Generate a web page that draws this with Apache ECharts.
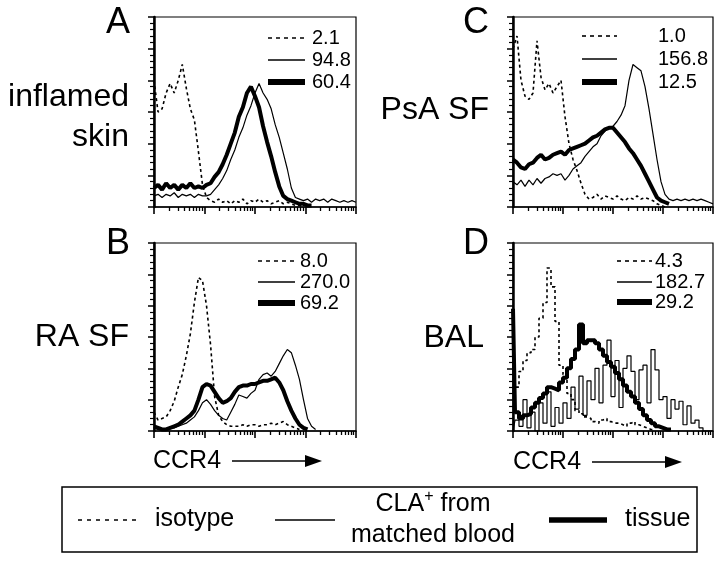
<!DOCTYPE html>
<html><head><meta charset="utf-8">
<script src="https://cdn.jsdelivr.net/npm/echarts@6/dist/echarts.min.js"></script>
<style>html,body{margin:0;padding:0;background:#fff}#c{width:720px;height:563px}</style>
</head><body><div id="c"></div>
<script>
// log10(CCR4 fluorescence) bin positions (4 decades)
const logBins = [0.00,0.08,0.16,0.24,0.32,0.40,0.48,0.56,0.64,0.72,0.80,0.88,0.96,1.04,1.12,1.20,1.28,1.36,1.44,1.52,1.60,1.68,1.76,1.84,1.92,2.00,2.08,2.16,2.24,2.32,2.40,2.48,2.56,2.64,2.72,2.80,2.88,2.96,3.04,3.12,3.20,3.28,3.36,3.44,3.52,3.60,3.68,3.76,3.84,3.92,4.00];

// Panel A - inflamed skin
const isoA    = [80,60,62,72,78,72,80,90,75,62,55,35,14,6,4,3,5,3,4,2,4,3,5,2,4,3,5,3,4,2,3,4,2,3,2,1,1,0,null,null,null,null,null,null,null,null,null,null,null,null,null];
const bloodA  = [7,8,6,8,7,9,6,8,7,8,6,8,7,7,8,11,14,18,23,30,36,44,50,58,64,72,78,72,68,62,52,44,34,24,12,6,5,4,5,3,5,4,5,3,5,4,3,4,3,4,3];
const tissueA = [12,14,11,15,12,14,11,14,12,15,12,13,12,14,15,19,22,27,33,40,47,57,63,72,76,70,63,51,41,32,22,13,7,5,4,3,2,2,1,1,null,null,null,null,null,null,null,null,null,null,null];

// Panel B - RA SF
const isoB    = [12,7,8,9,13,19,28,36,48,62,82,98,96,80,55,22,10,6,4,3,3,3,4,3,4,4,3,4,4,5,4,5,6,4,3,2,1,null,null,null,null,null,null,null,null,null,null,null,null,null,null];
const bloodB  = [2,1,1,1,2,2,3,4,5,7,9,13,18,20,17,13,10,8,7,12,17,23,22,21,24,26,33,36,37,35,38,43,48,52,50,42,33,20,8,3,1,null,null,null,null,null,null,null,null,null,null];
const tissueB = [3,2,1,1,2,3,4,6,8,10,13,20,28,30,29,25,21,18,19,21,25,28,29,29,30,30,31,32,32,33,34,31,26,19,13,8,4,2,1,null,null,null,null,null,null,null,null,null,null,null,null];

// Panel C - PsA SF
const isoC    = [100,108,80,70,68,72,105,82,74,78,72,76,80,57,40,30,23,15,8,5,6,8,5,7,6,5,7,5,4,6,5,7,5,6,5,4,2,1,0,null,null,null,null,null,null,null,null,null,null,null,null];
const bloodC  = [16,14,17,13,17,14,18,15,18,19,21,20,21,17,20,24,26,28,32,35,38,40,45,48,50,51,54,58,64,80,90,88,86,76,62,46,30,16,8,5,4,5,4,5,4,5,4,5,4,3,2];
const tissueC = [30,28,25,24,27,28,31,33,30,31,33,34,35,33,36,37,38,39,40,42,44,45,47,49,50,50,47,44,41,37,34,30,26,21,16,11,6,4,3,2,null,null,null,null,null,null,null,null,null,null,null];

// Panel D - BAL
const isoD    = [25,28,38,45,50,52,60,72,82,104,92,70,42,36,24,20,13,11,9,8,6,5,7,8,6,5,5,4,3,5,6,4,3,2,1,1,null,null,null,null,null,null,null,null,null,null,null,null,null,null,null];
const bloodD  = [0,7,3,20,2,12,0,18,5,25,3,15,5,18,8,28,14,35,10,32,20,40,18,42,58,22,45,15,40,48,38,20,39,42,18,52,39,20,22,8,20,14,19,4,16,5,7,2,0,0,0];
const tissueD = [78,12,8,10,11,15,18,21,24,28,27,26,31,34,40,46,52,68,56,58,58,56,52,48,44,41,37,33,29,25,22,18,14,10,7,5,3,2,1,1,null,null,null,null,null,null,null,null,null,null,null];

// Median fluorescence values shown in each panel (isotype, CLA+ blood, tissue)
const medA = ['2.1','94.8','60.4'];
const medB = ['8.0','270.0','69.2'];
const medC = ['1.0','156.8','12.5'];
const medD = ['4.3','182.7','29.2'];

const panelLetters = ['A','B','C','D'];
const panelNames = ['inflamed\nskin','RA SF','PsA SF','BAL'];
const axisName = 'CCR4';
const legendNames = ['isotype','CLA{sup|+} from\nmatched blood','tissue'];

const FONT = '"Liberation Sans", Arial, Helvetica, sans-serif';
const grids = [
  {left:154, top:17, width:202, height:190},   // A
  {left:154, top:243, width:202, height:188},  // B
  {left:513, top:17, width:200, height:190},   // C
  {left:513, top:243, width:200, height:188}   // D
];
const panelData = [
  [isoA, bloodA, tissueA],
  [isoB, bloodB, tissueB],
  [isoC, bloodC, tissueC],
  [isoD, bloodD, tissueD]
];
const meds = [medA, medB, medC, medD];

const majorX = [0,1,2,3,4];
const minorX = [];
for (let d = 0; d < 4; d++) for (let k = 2; k <= 9; k++) minorX.push(d + Math.log10(k));

const xAxes = [], yAxes = [], series = [];
grids.forEach((g, gi) => {
  xAxes.push({
    gridIndex: gi, type: 'value', min: 0, max: 4, position: 'bottom', offset: 0,
    axisLine: {show: true, onZero: false, lineStyle: {color: '#000', width: 1.5}},
    axisTick: {show: true, customValues: majorX, length: 7, lineStyle: {color: '#000', width: 1.6}},
    axisLabel: {show: false}, splitLine: {show: false}
  });
  xAxes.push({
    gridIndex: gi, type: 'value', min: 0, max: 4, position: 'bottom', offset: 0,
    axisLine: {show: false},
    axisTick: {show: true, customValues: minorX, length: 4, lineStyle: {color: '#000', width: 1.3}},
    axisLabel: {show: false}, splitLine: {show: false}
  });
  yAxes.push({
    gridIndex: gi, type: 'value', min: 0, max: 120, interval: 20, position: 'left',
    axisLine: {show: true, onZero: false, lineStyle: {color: '#000', width: 2.5}},
    axisTick: {show: true, length: 6, lineStyle: {color: '#000', width: 1.5}},
    minorTick: {show: true, splitNumber: 5, length: 4, lineStyle: {color: '#000', width: 1.2}},
    axisLabel: {show: false}, splitLine: {show: false}, minorSplitLine: {show: false}
  });
  const step = gi === 3 ? 'middle' : false;
  const styles = [
    {width: 1.6, type: [3, 3]},
    {width: 1.2, type: 'solid'},
    {width: 4, type: 'solid'}
  ];
  panelData[gi].forEach((arr, si) => {
    series.push({
      type: 'line', xAxisIndex: gi * 2, yAxisIndex: gi,
      data: logBins.map((x, i) => [x, arr[i]]),
      showSymbol: false, symbol: 'none', step: step, connectNulls: false,
      lineStyle: {color: '#000', width: styles[si].width, type: styles[si].type},
      z: si === 0 ? 4 : (si === 1 ? 3 : 2),
      animation: false, silent: true
    });
  });
});

const graphic = [];
function txt(text, x, y, size, align, vAlign, extra) {
  graphic.push(Object.assign({
    type: 'text', x: x, y: y, silent: true,
    style: Object.assign({text: text, fontSize: size, fontFamily: FONT, fill: '#000',
      align: align, verticalAlign: vAlign, textAlign: align, textVerticalAlign: vAlign}, extra || {})
  }));
}
function seg(x1, y1, x2, y2, w, dash) {
  graphic.push({type: 'line', silent: true, shape: {x1, y1, x2, y2},
    style: {stroke: '#000', lineWidth: w, lineDash: dash || null}});
}

// panel letters and names
const letterPos = [[130, 23], [130, 244], [489, 23], [489, 244]];
const namePos = [[129, 117], [129, 337], [489, 110], [484, 338]];
panelLetters.forEach((l, i) => txt(l, letterPos[i][0], letterPos[i][1], 36, 'right', 'middle'));
panelNames.forEach((n, i) => txt(n, namePos[i][0], namePos[i][1], 32, 'right', 'middle', {lineHeight: 40}));

// in-panel median legends
const medLayout = [
  {x1: 268, x2: 305, tx: 312, ys: [38, 60, 82]},
  {x1: 258, x2: 295, tx: 300, ys: [261, 282, 303]},
  {x1: 582, x2: 617, tx: 658, ys: [36, 59, 82]},
  {x1: 617, x2: 652, tx: 655, ys: [261, 282, 302]}
];
medLayout.forEach((m, i) => {
  seg(m.x1, m.ys[0], m.x2, m.ys[0], 1.6, [4, 4]);
  seg(m.x1, m.ys[1], m.x2, m.ys[1], 1.3);
  seg(m.x1, m.ys[2], m.x2, m.ys[2], 6);
  meds[i].forEach((v, k) => txt(v, m.tx, m.ys[k], 20, 'left', 'middle'));
});

// CCR4 axis titles with arrows
[[153, 461], [513, 462]].forEach(p => {
  txt(axisName, p[0], p[1], 25, 'left', 'middle');
  seg(p[0] + 79, p[1], p[0] + 155, p[1], 1.6);
  graphic.push({type: 'polygon', silent: true,
    shape: {points: [[p[0] + 152, p[1] - 6], [p[0] + 169, p[1]], [p[0] + 152, p[1] + 6]]},
    style: {fill: '#000'}});
});

// bottom legend box
graphic.push({type: 'rect', silent: true, shape: {x: 62, y: 487, width: 635, height: 65},
  style: {fill: 'none', stroke: '#000', lineWidth: 1.5}});
seg(78, 520, 139, 520, 1.4, [4, 5]);
txt(legendNames[0], 155, 519, 25, 'left', 'middle');
seg(275, 520, 335, 520, 1.5);
graphic.push({type: 'text', x: 433, y: 520, silent: true,
  style: {text: 'CLA{sup|+} from\nmatched blood', fontSize: 25, fontFamily: FONT, fill: '#000',
    align: 'center', verticalAlign: 'middle', textAlign: 'center', textVerticalAlign: 'middle', lineHeight: 31,
    rich: {sup: {fontSize: 16, fontFamily: FONT, verticalAlign: 'top', lineHeight: 31, padding: [0, 0, 12, 0]}}}});
seg(549, 520, 607, 520, 5.5);
txt(legendNames[2], 625, 519, 25, 'left', 'middle');

const chart = echarts.init(document.getElementById('c'), null, {renderer: 'canvas'});
chart.setOption({
  animation: false,
  backgroundColor: '#fff',
  grid: grids.map(g => Object.assign({show: true, borderColor: '#000', borderWidth: 1.2, backgroundColor: 'transparent'}, g)),
  xAxis: xAxes,
  yAxis: yAxes,
  series: series,
  graphic: graphic
});
</script></body></html>
